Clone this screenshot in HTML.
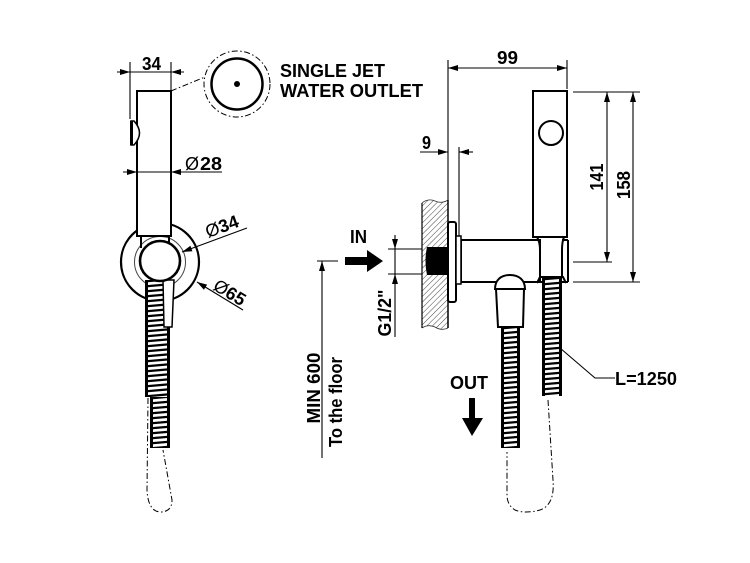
<!DOCTYPE html>
<html><head><meta charset="utf-8"><style>
html,body{margin:0;padding:0;background:#fff;}
svg{display:block;}
text{font-family:"Liberation Sans",Arial,sans-serif;font-weight:bold;font-size:18px;fill:#000;}
.d{stroke:#000;stroke-width:1.1;fill:none;}
.o{stroke:#000;stroke-width:2;fill:#fff;}
.dd{stroke:#000;stroke-width:1;fill:none;stroke-dasharray:6 2.5 1.5 2.5;}
</style></head><body>
<svg width="750" height="563" viewBox="0 0 750 563" xmlns="http://www.w3.org/2000/svg">
<defs>
<pattern id="hs" patternUnits="userSpaceOnUse" x="3" y="0" width="26" height="5">
<rect width="26" height="5" fill="#000"/>
<polygon points="0,2.2 26,0 26,2.8 0,5" fill="#fff"/>
</pattern>
<pattern id="hatch" patternUnits="userSpaceOnUse" width="4" height="4" patternTransform="rotate(45)">
<rect width="4" height="4" fill="#fff"/>
<line x1="0" y1="0" x2="0" y2="4" stroke="#444" stroke-width="1"/>
</pattern>
</defs>

<!-- ===== LEFT VIEW ===== -->
<line x1="130" y1="62" x2="130" y2="119" class="d"/>
<line x1="171" y1="62" x2="171" y2="91" class="d"/>
<line x1="117" y1="72" x2="184" y2="72" class="d"/>
<polygon points="130,72 120,69 120,75"/>
<polygon points="171,72 181,69 181,75"/>
<text x="142" y="70" textLength="19" lengthAdjust="spacingAndGlyphs">34</text>

<circle cx="237" cy="84" r="33" class="dd"/>
<circle cx="237" cy="84" r="25.5" fill="none" stroke="#000" stroke-width="2.5"/>
<circle cx="237" cy="84" r="3" fill="#000"/>
<line x1="171" y1="91" x2="205" y2="77" class="dd"/>
<text x="280" y="77" textLength="105" lengthAdjust="spacingAndGlyphs">SINGLE JET</text>
<text x="280" y="97" textLength="143" lengthAdjust="spacingAndGlyphs">WATER OUTLET</text>

<circle cx="160" cy="262" r="39" fill="#fff" stroke="#000" stroke-width="2.2"/>
<circle cx="160" cy="262" r="25.5" fill="none" stroke="#444" stroke-width="1"/>
<rect x="137" y="91" width="34" height="145" class="o"/>
<path d="M131,121 L134,121 Q145,133 134,145 L131,145 Z" fill="#fff" stroke="#000" stroke-width="1.5"/>
<rect x="130" y="121" width="3" height="24" fill="#000"/>
<line x1="141" y1="236" x2="141" y2="248" stroke="#000" stroke-width="2"/>
<line x1="169" y1="236" x2="169" y2="248" stroke="#000" stroke-width="2"/>
<line x1="123" y1="172" x2="222" y2="172" class="d"/>
<polygon points="137,172 127,169 127,175"/>
<polygon points="171,172 181,169 181,175"/>
<text x="185" y="170" style="font-weight:normal" textLength="14" lengthAdjust="spacingAndGlyphs">Ø</text>
<text x="200" y="170" textLength="22" lengthAdjust="spacingAndGlyphs">28</text>

<g transform="translate(145,280)"><rect width="25" height="117" fill="#000"/><rect x="3" width="19" height="117" fill="url(#hs)"/></g>
<g transform="translate(150,397)"><rect width="20" height="51" fill="#000"/><rect x="3" width="14" height="51" fill="url(#hs)"/></g>
<polygon points="163,280 174,280 172,327 164,327" fill="#fff" stroke="#000" stroke-width="1.5"/>
<circle cx="160" cy="261" r="20" fill="#fff" stroke="#000" stroke-width="2.6"/>
<path d="M148,398 L147,490 Q148,511 160,512 Q172,512 172,500 L163,450" class="dd"/>

<line x1="182" y1="252" x2="247" y2="228" class="d"/>
<polygon points="182,252 192.4,251.3 190.4,245.7"/>
<text transform="translate(208,238) rotate(-20)"><tspan style="font-weight:normal">Ø</tspan>34</text>
<line x1="197" y1="282" x2="243" y2="310" class="d"/>
<polygon points="197,282 207.1,284.6 203.9,289.8"/>
<text transform="translate(212,289) rotate(31)"><tspan style="font-weight:normal">Ø</tspan>65</text>

<!-- ===== RIGHT VIEW ===== -->
<line x1="448" y1="60" x2="448" y2="200" class="d"/>
<line x1="567" y1="60" x2="567" y2="89" class="d"/>
<line x1="448" y1="68" x2="567" y2="68" class="d"/>
<polygon points="448,68 458,65 458,71"/>
<polygon points="567,68 557,65 557,71"/>
<text x="497" y="64" textLength="21" lengthAdjust="spacingAndGlyphs">99</text>
<line x1="420" y1="152" x2="448" y2="152" class="d"/>
<polygon points="448,152 438,149 438,155"/>
<line x1="459" y1="152" x2="473" y2="152" class="d"/>
<polygon points="459,152 469,149 469,155"/>
<line x1="459" y1="147" x2="459" y2="236" class="d"/>
<text x="422" y="149" textLength="9" lengthAdjust="spacingAndGlyphs">9</text>

<line x1="573" y1="92" x2="640" y2="92" class="d"/>
<line x1="573" y1="262" x2="612" y2="262" class="d"/>
<line x1="573" y1="282" x2="640" y2="282" class="d"/>
<line x1="607" y1="92" x2="607" y2="262" class="d"/>
<line x1="633" y1="92" x2="633" y2="282" class="d"/>
<polygon points="607,92 604,102 610,102"/>
<polygon points="607,262 604,252 610,252"/>
<polygon points="633,92 630,102 636,102"/>
<polygon points="633,282 630,272 636,272"/>
<text transform="translate(603,177) rotate(-90)" text-anchor="middle" textLength="27" lengthAdjust="spacingAndGlyphs">141</text>
<text transform="translate(630,185) rotate(-90)" text-anchor="middle" textLength="28" lengthAdjust="spacingAndGlyphs">158</text>

<path d="M422,203 Q428,198 435,201 Q442,204 448,200 L448,328 Q441,331 435,327 Q428,324 422,328 Z" fill="url(#hatch)" stroke="none"/>
<path d="M422,203 Q428,198 435,201 Q442,204 448,200 M422,328 Q428,324 435,327 Q441,331 448,328" fill="none" stroke="#333" stroke-width="0.8"/>
<line x1="422" y1="203" x2="422" y2="328" stroke="#000" stroke-width="1.2"/>
<line x1="448" y1="200" x2="448" y2="328" stroke="#000" stroke-width="1.5"/>
<path d="M427,247 L448,247 L448,275 L427,275 Q424,261 427,247 Z" fill="#000"/>

<line x1="388" y1="249" x2="422" y2="249" class="d"/>
<line x1="388" y1="274" x2="422" y2="274" class="d"/>
<line x1="395" y1="235" x2="395" y2="337" class="d"/>
<polygon points="395,249 392,239 398,239"/>
<polygon points="395,274 392,284 398,284"/>
<text transform="translate(391,313) rotate(-90)" text-anchor="middle" textLength="47" lengthAdjust="spacingAndGlyphs">G1/2"</text>

<polygon points="345,257 367,257 367,250 383,261 367,272 367,265 345,265"/>
<text x="350" y="243" textLength="17" lengthAdjust="spacingAndGlyphs">IN</text>

<line x1="317" y1="261" x2="338" y2="261" class="d"/>
<line x1="322" y1="261" x2="322" y2="458" class="d"/>
<polygon points="322,261 319,271 325,271"/>
<text transform="translate(320,388) rotate(-90)" text-anchor="middle" textLength="71" lengthAdjust="spacingAndGlyphs">MIN 600</text>
<text transform="translate(342,402) rotate(-90)" text-anchor="middle" textLength="90" lengthAdjust="spacingAndGlyphs">To the floor</text>

<rect x="461" y="240" width="79" height="42" class="o"/>
<rect x="448" y="222" width="8" height="80" rx="2" class="o"/>
<rect x="456" y="236" width="5" height="48" fill="#fff" stroke="#000" stroke-width="1.5"/>

<rect x="533" y="91" width="34" height="146" class="o"/>
<circle cx="551" cy="133" r="12" fill="none" stroke="#000" stroke-width="2"/>
<path d="M537,237 Q540,242 540,250 L540,278 M564,237 Q562,242 562,250 L562,278" fill="none" stroke="#000" stroke-width="2"/>
<line x1="562" y1="240" x2="568" y2="240" stroke="#000" stroke-width="2"/>
<line x1="568" y1="240" x2="568" y2="282" stroke="#000" stroke-width="2"/>
<line x1="540" y1="282" x2="568" y2="282" stroke="#000" stroke-width="2"/>

<g transform="translate(542,278)"><rect width="20" height="118" fill="#000"/><rect x="3" width="14" height="118" fill="url(#hs)"/></g>
<path d="M537,283 L540,277 L563,277 L566,283" fill="none" stroke="#000" stroke-width="2"/>
<g transform="translate(501,327)"><rect width="19" height="121" fill="#000"/><rect x="3" width="13" height="121" fill="url(#hs)"/></g>

<polygon points="496,289 524,289 523,327 498,327" class="o"/>
<path d="M495,289 C495,280 501,275 510,275 C519,275 525,280 525,289 Z" class="o"/>

<path d="M548,400 L553,480 Q555,505 540,510 Q525,514 515,510 Q507,505 507,495 L507,452" class="dd"/>

<polyline points="560,348 595,378 615,378" class="d"/>
<text x="615" y="385" textLength="62" lengthAdjust="spacingAndGlyphs">L=1250</text>

<text x="450" y="389" textLength="38" lengthAdjust="spacingAndGlyphs">OUT</text>
<polygon points="469,398 475,398 475,418 483,418 472,436 462,418 469,418"/>
</svg>
</body></html>
